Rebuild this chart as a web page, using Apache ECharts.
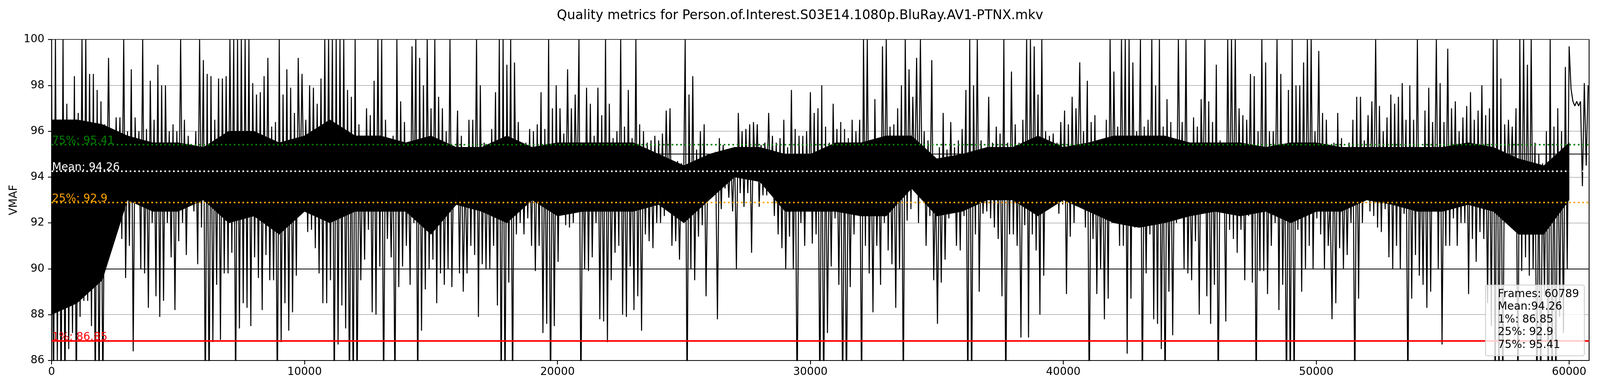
<!DOCTYPE html>
<html>
<head>
<meta charset="utf-8">
<script src="https://cdn.jsdelivr.net/npm/echarts@6/dist/echarts.min.js"></script>
<style>
html,body{margin:0;padding:0;background:#fff;overflow:hidden;}
#chart{width:100vw;height:100vh;}
</style>
</head>
<body>
<div id="chart"></div>
<script>
// ---------- data ----------
const chartTitle = 'Quality metrics for Person.of.Interest.S03E14.1080p.BluRay.AV1-PTNX.mkv';
const yName = 'VMAF';
const frameCount = 60789;
const frameStep = 150; // each block of 150 frames: its local high and local low
const xTicks = [0, 10000, 20000, 30000, 40000, 50000, 60000];
const yTicks = [86, 88, 90, 92, 94, 96, 98, 100];
const yMin = 86, yMax = 100;

const hi = [
98.0,100,96.5,100,97.2,96.0,98.4,96.8,100,100,
98.5,98.5,97.8,97.3,96.3,99.2,96.0,96.6,96.6,100,
96.0,98.7,96.6,96.0,100,96.1,98.2,96.5,98.9,98.0,
98.0,96.0,96.3,96.0,100,96.5,95.8,95.4,96.0,100,
99.1,98.5,98.4,96.5,98.3,98.3,98.4,100,100,100,
100,100,100,98.1,97.6,97.7,98.4,99.2,96.2,96.4,
100,97.6,98.7,97.9,96.8,99.2,98.5,96.5,98.0,97.9,
97.2,98.3,100,100,100,100,100,100,97.8,97.5,
100,96.3,95.3,97.0,96.7,98.2,100,100,96.5,95.0,
95.8,100,97.3,96.4,95.0,99.7,100,99.2,98.0,100,
97.0,100,97.5,97.0,96.0,100,95.0,96.9,95.8,94.5,
96.5,96.5,100,98.0,95.5,95.3,96.1,97.7,100,100,
98.9,100,99.0,96.4,95.5,95.5,96.1,96.0,96.3,97.7,
96.1,100,97.0,98.0,97.0,95.9,98.7,97.0,97.6,100,
95.2,97.9,97.2,95.8,97.9,96.7,100,97.2,95.7,96.0,
100,96.2,97.8,95.7,100,96.3,96.0,95.5,95.6,95.8,
95.6,95.9,96.9,97.0,94.5,94.7,94.6,100,97.6,98.4,
95.2,96.0,96.3,95.0,94.7,95.1,95.7,95.4,94.7,95.0,
95.3,96.8,96.0,96.1,96.3,96.4,96.3,95.4,95.5,96.8,
95.8,95.5,95.7,96.5,95.3,97.8,96.1,95.8,95.8,96.0,
97.7,96.8,97.0,98.0,96.2,95.5,97.2,96.1,96.4,96.1,
95.7,96.5,96.0,96.5,100,100,95.6,97.4,95.0,99.7,
100,96.2,96.3,97.0,98.0,100,98.7,97.5,99.2,100,
96.0,95.6,99.1,93.8,95.3,96.8,95.2,96.4,95.3,95.6,
96.1,97.8,100,98.0,100,95.6,94.5,97.5,95.5,96.2,
95.9,100,95.5,98.6,96.3,95.5,96.5,100,100,99.7,
97.6,100,96.0,95.8,95.9,95.5,96.4,96.9,96.3,97.5,
97.0,99.0,96.0,98.2,96.4,96.7,95.5,95.4,96.5,100,
98.6,96.2,100,100,100,99.0,96.0,100,96.2,96.5,
100,98.0,100,96.2,97.4,96.4,95.6,100,96.4,100,
95.0,96.6,96.2,97.4,100,97.3,96.4,98.9,95.6,95.1,
100,100,100,97.0,96.7,96.5,98.5,98.4,96.0,100,
99.0,96.0,96.0,100,98.5,95.3,97.8,100,98.0,98.0,
99.0,100,100,96.0,99.5,96.8,96.5,93.0,95.5,96.8,
95.7,95.0,95.5,96.5,97.5,97.5,95.6,96.7,97.3,100,
97.1,96.0,96.6,97.6,97.2,97.5,98.1,96.5,98.0,96.5,
100,95.2,96.9,97.9,96.4,100,98.1,96.4,99.6,97.0,
97.3,96.0,96.6,97.1,97.7,96.5,96.9,98.0,96.7,97.0,
100,100,98.3,96.3,96.5,96.2,97.0,100,100,98.9,
100,95.5,95.0,94.6,96.0,100,96.2,97.0,96.0,98.8,
99.7,97.3,97.3,97.3,98.1,98.0
];

const lo = [
84,86.0,84,84,86.5,87.2,84,87.9,88.6,88.6,
87.5,84,84,84,92.5,92.2,91.7,93.0,91.3,89.6,
91.0,86.4,93.0,90.0,89.8,88.3,92.0,88.8,87.9,88.6,
92.0,90.5,88.2,91.2,92.0,90.6,92.8,92.5,90.2,91.8,
84,84,86.8,89.3,86.9,89.8,89.8,90.7,84,87.4,
88.5,88.3,87.5,90.5,89.6,88.2,90.6,89.5,89.5,84,
86.8,88.5,87.3,88.1,89.7,93.5,93.5,91.6,91.7,90.9,
89.8,88.5,88.5,89.5,84,86.7,88.4,87.4,84,84,
84,89.5,90.4,91.7,88.1,88.0,90.1,84,91.3,90.5,
84,89.2,90.1,91.0,89.3,92.0,84,87.3,89.1,90.0,
90.4,88.5,89.8,89.3,90.0,89.2,93.2,89.8,89.0,89.8,
91.0,90.6,87.9,90.2,90.0,90.0,91.0,88.4,84,84,
89.4,84,91.5,92.0,91.5,92.2,91.0,89.9,91.0,87.2,
87.6,84,87.5,90.3,92.8,91.9,91.8,92.0,93.0,84,
90.0,89.9,90.5,92.0,87.8,87.7,86.8,89.5,90.7,91.0,
88.0,87.9,90.1,88.2,88.8,87.3,91.5,91.2,90.9,92.0,
92.0,92.3,92.8,91.0,91.2,90.4,92.4,84,90.0,89.5,
91.4,91.9,88.8,93.7,93.5,87.8,92.6,93.5,93.1,92.5,
90.0,93.3,92.7,93.3,90.7,94.0,92.7,93.2,93.2,93.5,
92.3,91.5,90.9,90.0,91.4,90.0,84,92.0,91.0,92.5,
91.1,91.5,84,84,87.2,90.1,92.2,89.3,84,84,
89.2,91.5,93.0,84,91.0,89.8,88.1,91.0,89.3,92.0,
90.8,90.2,88.3,90.0,84,92.1,92.6,93.5,92.0,93.0,
91.0,92.3,89.5,87.6,89.4,90.4,92.2,92.5,91.0,90.8,
92.3,84,84,91.5,89.0,92.4,92.5,92.2,91.8,91.3,
88.8,84,91.5,91.5,91.0,87.0,91.9,87.0,91.5,90.8,
88.0,89.7,92.8,92.8,93.0,92.4,92.8,88.9,91.4,92.0,
93.8,93.0,91.8,84,91.3,88.9,90.0,87.8,88.7,92.0,
92.2,91.0,91.0,86.3,88.7,91.8,92.6,84,89.8,91.5,
87.8,87.6,86.5,84,89.0,87.1,92.0,92.2,90.0,89.8,
89.5,91.2,88.0,93.0,88.8,87.6,89.3,84,93.0,87.7,
91.7,91.3,90.7,91.7,89.5,92.3,89.4,84,89.9,89.9,
88.9,91.0,92.0,88.2,89.3,84,84,84,91.7,89.0,
90.0,91.0,90.0,92.2,91.5,90.0,91.0,87.8,88.5,90.9,
90.0,90.6,92.0,84,88.7,92.0,93.0,92.5,92.3,91.8,
91.6,92.6,90.5,90.0,91.0,90.0,92.4,84,88.7,90.6,
89.7,89.3,88.3,89.0,92.8,90.0,86.7,91.0,91.0,92.2,
91.0,92.0,92.0,88.9,91.3,90.3,91.6,91.3,88.5,87.5,
84,84,84,93.0,93.5,93.0,84,89.9,90.5,89.7,
90.0,84,84,88.8,84,84,84,87.9,87.2,90.0,
97.85,97.1,97.1,93.6,94.5,97.9
];

// dense core of the trace (where the line fills solid black), one value per 1000 frames
const coreStep = 1000;
const coreLo = [
88.0,88.5,89.5,93.0,92.5,92.5,93.0,92.0,92.3,91.5,
92.5,92.0,92.5,92.5,92.5,91.5,92.8,92.5,92.0,93.0,
92.3,92.5,92.5,92.5,92.8,92.0,93.0,94.0,93.8,92.5,
92.5,92.5,92.3,92.3,93.5,92.3,92.5,93.0,93.0,92.3,
93.0,92.5,92.0,91.8,92.0,92.3,92.5,92.3,92.5,92.0,
92.5,92.5,93.0,92.8,92.5,92.5,92.8,92.5,91.5,91.5,
93.0
];
const coreHi = [
96.5,96.5,96.3,95.8,95.5,95.5,95.3,96.0,96.0,95.5,
95.8,96.5,95.8,95.8,95.5,95.8,95.3,95.3,95.8,95.3,
95.5,95.5,95.5,95.5,95.0,94.5,95.0,95.3,95.3,95.0,
95.0,95.5,95.5,95.8,95.8,94.8,95.0,95.3,95.3,95.8,
95.3,95.5,95.8,95.8,95.8,95.5,95.5,95.5,95.3,95.5,
95.5,95.3,95.3,95.3,95.3,95.3,95.5,95.3,94.8,94.5,
95.5
];

const statNames  = ['75%', 'Mean', '25%', '1%'];
const statValues = [95.41, 94.26, 92.9, 86.85];
const statColors = ['#008000', '#ffffff', '#ffa500', '#ff0000'];
const statDashed = [true, true, true, false];
const majorLines = [90, 95];
const legendLines = ['Frames: 60789', 'Mean:94.26', '1%: 86.85', '25%: 92.9', '75%: 95.41'];

// ---------- build series data ----------
const seriesData = [];
for (let b = 0; b < hi.length; b++) {
  seriesData.push([b * frameStep, hi[b]]);
  seriesData.push([Math.min(b * frameStep + frameStep / 2, frameCount - 1), lo[b]]);
}
const coreData = coreLo.map((v, i) => [i * coreStep, v, coreHi[i]]);

// ---------- layout (designed for 4400 x 1000, horizontally scaled to the window) ----------
const W = window.innerWidth || 4400;
const H = window.innerHeight || 1000;
const sx = W / 4400;
const sy = H / 1000;
const FONT = 'DejaVu Sans';
const FS = 27.8;

const dom = document.getElementById('chart');
const chart = echarts.init(dom, null, {renderer: 'canvas', width: W, height: H});

const gridLeft = 142 * sx, gridRight = 30 * sx, gridTop = 101 * sy, gridBottom = 78 * sy;

const statMarks = statValues.map((v, i) => ({
  yAxis: v,
  lineStyle: {color: statColors[i], width: 4.2, type: statDashed[i] ? [4.2, 6.9] : 'solid'},
  label: {
    show: true,
    position: 'insideStartTop',
    distance: [1, -5],
    formatter: statNames[i] + ': ' + v,
    color: statColors[i],
    fontSize: FS,
    fontFamily: FONT
  }
}));

const legendW = 253, legendH = 181 * sy;
const legendRightX = W - gridRight - 13 * sx;
const legendX = legendRightX - legendW;
const legendY = 729 * sy;

chart.setOption({
  animation: false,
  backgroundColor: '#ffffff',
  title: {
    text: chartTitle,
    left: 'center',
    top: 19 * sy,
    textStyle: {fontFamily: FONT, fontSize: 33.3, fontWeight: 'normal', color: '#000'}
  },
  grid: {
    left: gridLeft, right: gridRight, top: gridTop, bottom: gridBottom,
    show: true, borderColor: '#000', borderWidth: 2.2, backgroundColor: 'transparent'
  },
  xAxis: {
    type: 'value',
    min: 0, max: frameCount,
    interval: 10000,
    axisLine: {show: true, onZero: false, lineStyle: {color: '#000', width: 2.2}},
    axisTick: {show: true, length: 10 * sy, lineStyle: {color: '#000', width: 2.2}, customValues: xTicks},
    axisLabel: {show: true, margin: 16 * sy, color: '#000', fontSize: FS, fontFamily: FONT,
      customValues: xTicks, formatter: v => String(v)},
    splitLine: {show: false}
  },
  yAxis: {
    type: 'value',
    min: yMin, max: yMax,
    interval: 1,
    name: yName,
    nameLocation: 'middle',
    nameGap: 75 * sx,
    nameTextStyle: {fontFamily: FONT, fontSize: FS, color: '#000'},
    axisLine: {show: true, onZero: false, lineStyle: {color: '#000', width: 2.2}},
    axisTick: {show: true, length: 10 * sx, lineStyle: {color: '#000', width: 2.2}, customValues: yTicks},
    axisLabel: {show: true, margin: 20 * sx, color: '#000', fontSize: FS, fontFamily: FONT,
      customValues: yTicks, formatter: v => String(v)},
    splitLine: {show: true, lineStyle: {color: '#808080', width: 1.2}}
  },
  series: [
    {
      type: 'line',
      name: 'major',
      data: [],
      z: 1,
      silent: true,
      markLine: {
        z: 1,
        silent: true,
        symbol: ['none', 'none'],
        label: {show: false},
        lineStyle: {color: '#000', width: 2, type: 'solid'},
        data: majorLines.map(v => ({yAxis: v}))
      }
    },
    {
      type: 'custom',
      name: 'core',
      data: coreData,
      z: 2,
      clip: true,
      silent: true,
      encode: {x: 0, y: [1, 2]},
      renderItem: function (params, api) {
        const i = params.dataIndex;
        if (i >= coreData.length - 1) return null;
        const a = coreData[i], b = coreData[i + 1];
        const p1 = api.coord([a[0], a[1]]);
        const p2 = api.coord([b[0], b[1]]);
        const p3 = api.coord([b[0], b[2]]);
        const p4 = api.coord([a[0], a[2]]);
        return {
          type: 'polygon',
          shape: {points: [p1, p2, p3, p4]},
          style: {fill: '#000', stroke: '#000', lineWidth: 1}
        };
      }
    },
    {
      type: 'line',
      name: 'VMAF',
      data: seriesData,
      showSymbol: false,
      symbol: 'none',
      sampling: null,
      clip: true,
      z: 3,
      lineStyle: {color: '#000', width: 2.6},
      silent: true
    },
    {
      type: 'line',
      name: 'stats',
      data: [],
      z: 5,
      silent: true,
      markLine: {
        z: 5,
        silent: true,
        symbol: ['none', 'none'],
        data: statMarks
      }
    }
  ],
  graphic: [
    {
      type: 'rect',
      z: 100,
      shape: {x: legendX, y: legendY, width: legendW, height: legendH, r: 5},
      style: {fill: 'rgba(255,255,255,0.8)', stroke: '#cccccc', lineWidth: 2.2}
    },
    {
      type: 'text',
      z: 101,
      x: legendX + 34 * sx,
      y: legendY + 7 * sy,
      style: {
        text: legendLines.join('\n'),
        font: FS + 'px "' + FONT + '"',
        fill: '#000',
        lineHeight: 32.6 * sy,
        verticalAlign: 'top',
        align: 'left'
      }
    }
  ]
});
</script>
</body>
</html>
